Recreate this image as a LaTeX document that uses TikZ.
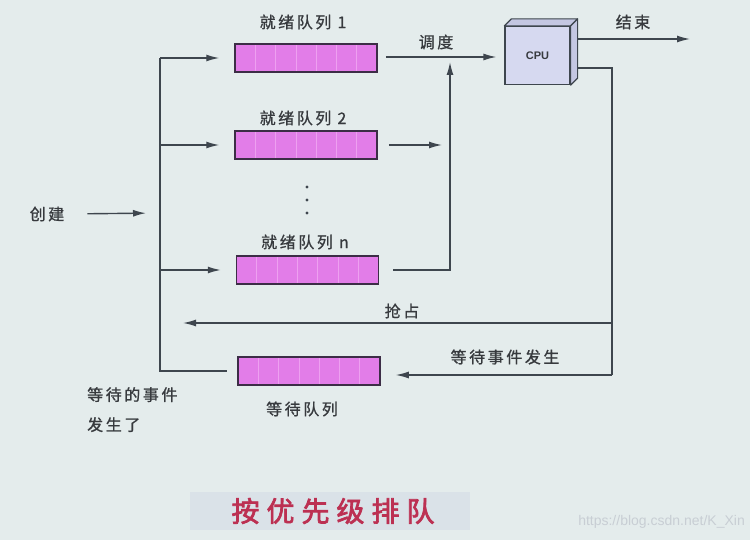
\documentclass[tikz,border=0pt]{standalone}
\usepackage{fontspec}
\newfontfamily\cjk[LetterSpace=16,FakeBold=1]{Noto Sans CJK SC}
\newfontfamily\cjktitle[LetterSpace=25,FakeBold=2.5]{Noto Sans CJK SC}
\newfontfamily\cpufont{Liberation Sans}
\usetikzlibrary{arrows.meta}
\definecolor{bg}{RGB}{228,236,236}
\definecolor{qfill}{RGB}{226,125,232}
\definecolor{qcellc}{RGB}{238,160,240}
\definecolor{qline}{RGB}{60,45,70}
\definecolor{lnc}{RGB}{62,70,78}
\definecolor{txt}{RGB}{55,58,62}
\definecolor{cpufill}{RGB}{214,217,240}
\definecolor{cpuside}{RGB}{196,199,226}
\definecolor{titlec}{RGB}{188,48,82}
\definecolor{titlebg}{RGB}{218,226,232}
\definecolor{wm}{RGB}{200,206,212}
\tikzset{
  queue/.style={draw=qline, line width=1.5pt, fill=qfill, minimum width=142pt, minimum height=28pt, inner sep=0pt,
    path picture={\foreach \i in {1,...,6}{\draw[qcellc, line width=0.7pt] ([xshift=\i*20.3pt]path picture bounding box.south west) -- ([xshift=\i*20.3pt]path picture bounding box.north west);}}},
  lbl/.style={text=txt, font=\cjk\fontsize{16}{18}\selectfont, inner sep=1pt},
  conn/.style={draw=lnc, line width=1.4pt},
  arr/.style={conn, -{Latex[length=13pt,width=7pt]}},
  cpubox/.style={draw=lnc, line width=1.2pt, fill=cpufill, minimum width=65pt, minimum height=58pt, inner sep=0pt,
    font=\cpufont\bfseries\fontsize{11}{13}\selectfont, text=txt},
  face/.style={draw=lnc, line width=1.2pt, fill=cpuside, line join=round},
}
\begin{document}
\begin{tikzpicture}[x=1pt,y=-1pt]
\fill[bg] (0,0) rectangle (750,540);
\useasboundingbox (0,0) rectangle (750,540);

% queues
\node[queue] (q1) at (306,58) {};
\node[queue] (q2) at (306,145) {};
\node[queue] (qn) at (307.5,270) {};
\node[queue] (qw) at (309,371) {};

\node[lbl] (l1) at (303,22) {就绪队列 1};
\node[lbl] (l2) at (303,118) {就绪队列 2};
\node[lbl] (lnn) at (305,242) {就绪队列 n};
\node[lbl] (lw) at (302,409) {等待队列};

\foreach \yy in {187,200,213} \fill[lnc] (307,\yy) circle (1.7);

% CPU
\node[cpubox] (cpu) at (537.5,55.5) {CPU};
\draw[face] (cpu.north west) -- ++(7,-7) -- ([shift={(7,-7)}]cpu.north east) -- (cpu.north east) -- cycle;
\draw[face] (cpu.north east) -- ++(7,-7) -- ([shift={(7,-7)}]cpu.south east) -- (cpu.south east) -- cycle;

% create and left bus
\node[lbl] (create) at (47,214) {创建};
\coordinate (busin) at (160,213);
\draw[arr, shorten <=22pt, shorten >=14pt] (create.east) -- (busin);
\draw[conn] (q1.west -| busin) -- (qw.west -| busin) -- ([xshift=-10pt]qw.west);
\draw[arr, shorten >=15pt] (q1.west -| busin) -- (q1.west);
\draw[arr, shorten >=15pt] (q2.west -| busin) -- (q2.west);
\draw[arr, shorten >=15pt] (qn.west -| busin) -- (qn.west);

% to CPU
\coordinate (j1) at (450,57);
\draw[arr, shorten <=8pt, shorten >=8pt] (q1.east |- j1) -- (cpu.west |- j1);
\node[lbl] (dd) at (436,42) {调度};
\draw[arr, shorten <=11pt, shorten >=8pt] (q2.east) -- (q2.east -| j1);
\draw[arr, shorten <=14pt, shorten >=5pt] (qn.east) -- (qn.east -| j1) -- (j1);

% CPU outputs
\coordinate (endp) at (690,39);
\draw[arr] ([xshift=7pt]cpu.east |- endp) -- (endp);
\node[lbl] (js) at (633,22) {结束};

\coordinate (cr) at (612,68);
\draw[conn] ([xshift=7pt]cpu.east |- cr) -- (cr) -- (cr |- 0,375);
\draw[arr, shorten >=15pt] (cr |- 0,375) -- (qw.east |- 0,375);
\draw[arr, shorten >=23pt] (cr |- 0,323) -- (busin |- 0,323);
\node[lbl] (qz) at (402,311) {抢占};
\node[lbl] (ddsj) at (505,357) {等待事件发生};

\node[lbl, align=left, anchor=north west, font=\cjk\fontsize{16}{30}\selectfont] (wait) at (86,386) {等待的事件\\发生了};

% title
\fill[titlebg] (190,492) rectangle (470,530);
\node[text=titlec, font=\cjktitle\fontsize{28}{32}\selectfont, inner sep=0pt] (title) at (333,511) {按优先级排队};

\node[text=wm, font=\cpufont\fontsize{14}{16}\selectfont, anchor=east, inner sep=0pt] (wmk) at (745,522) {https://blog.csdn.net/K\_Xin};
\end{tikzpicture}
\end{document}
